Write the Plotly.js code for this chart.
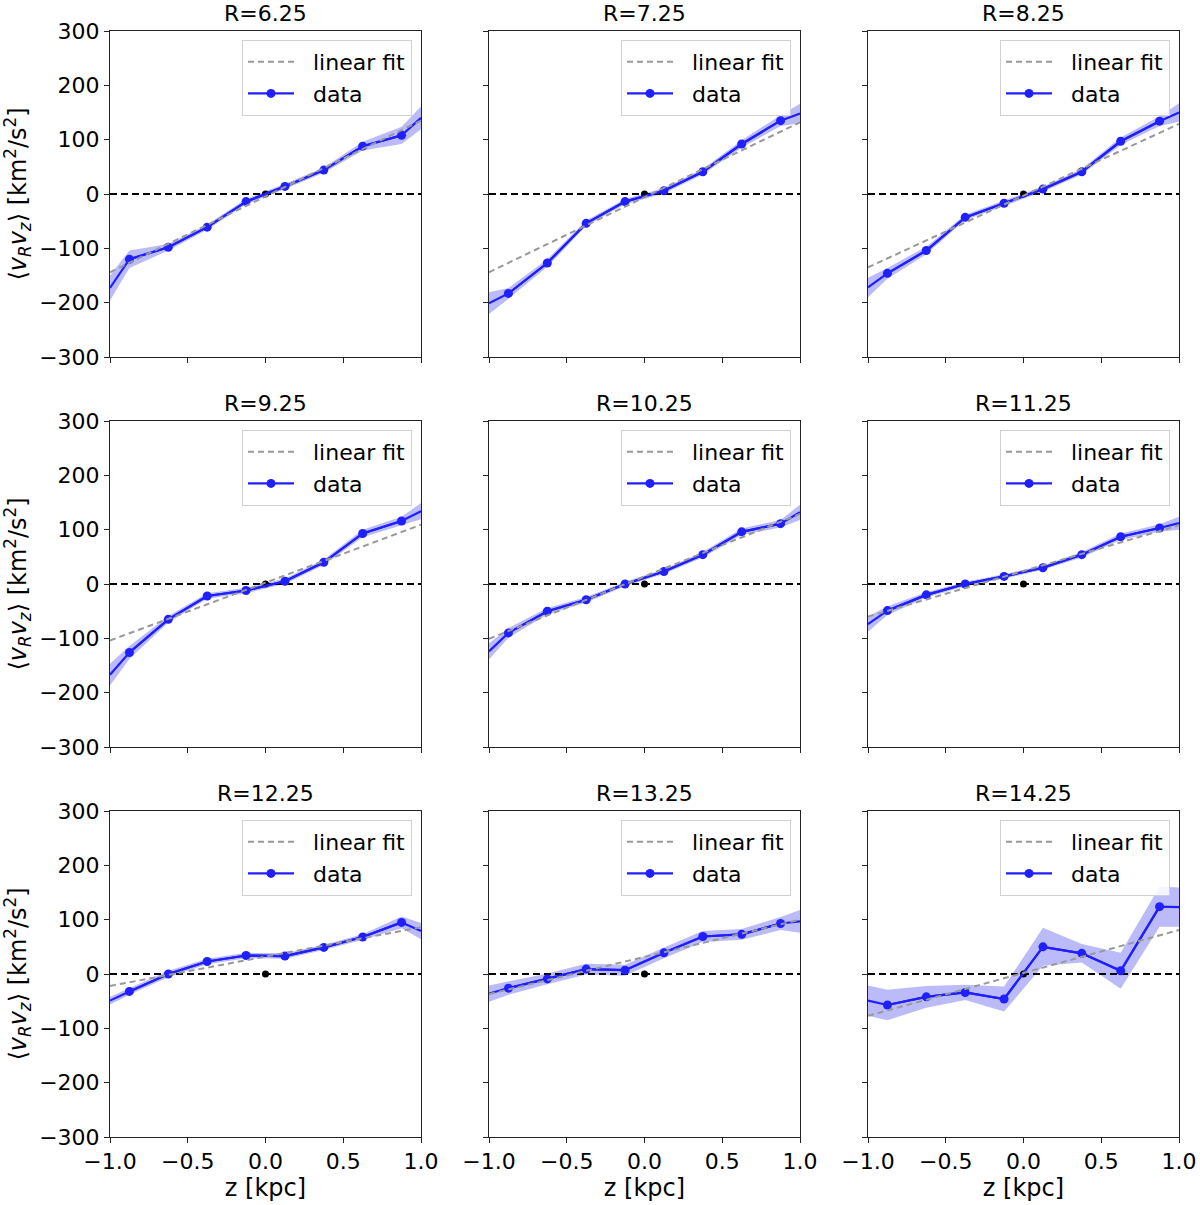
<!DOCTYPE html>
<html>
<head>
<meta charset="utf-8">
<script src="https://cdn.plot.ly/plotly-3.0.1.min.js"></script>
<style>
html, body { margin: 0; padding: 0; background: #fff; }
#chart { width: 1200px; height: 1205px; }
</style>
</head>
<body>
<div id="chart"></div>
<script>
"use strict";

// z bin centres, with the two outer edges where the curve is carried to the frame
const zBins = [-1, -0.875, -0.625, -0.375, -0.125, 0.125, 0.375, 0.625, 0.875, 1];
const radiusLabels = ["6.25", "7.25", "8.25", "9.25", "10.25", "11.25", "12.25", "13.25", "14.25"];

// <vR vz> per radius bin (km^2/s^2)
const vrvzR625 = [-173, -120, -98, -61, -14, 14, 44, 88, 108, 140];
const vrvzR725 = [-201, -183, -127, -54, -14, 6, 41, 92, 135, 148];
const vrvzR825 = [-172, -146, -104, -43, -17, 9, 41, 97, 134, 150];
const vrvzR925 = [-167, -126, -65, -22, -12, 5, 40, 93, 116, 134];
const vrvzR1025 = [-124, -90, -50, -29, 0, 23, 54, 96, 111, 132];
const vrvzR1125 = [-74, -49, -20, 0, 14, 30, 54, 87, 103, 112];
const vrvzR1225 = [-49, -32, 0, 23, 34, 33, 49, 68, 95, 79];
const vrvzR1325 = [-36, -26, -9, 9, 7, 39, 69, 73, 93, 97];
const vrvzR1425 = [-49, -57, -42, -34, -46, 50, 38, 6, 124, 123];

// half width of the shaded uncertainty band
const errR625 = [23, 16, 6, 5, 5, 5, 5, 8, 16, 21];
const errR725 = [20, 10, 7, 5, 5, 5, 5, 7, 10, 18];
const errR825 = [18, 10, 7, 5, 5, 5, 5, 7, 9, 17];
const errR925 = [20, 12, 6, 5, 5, 5, 5, 7, 8, 15];
const errR1025 = [15, 9, 6, 5, 4, 4, 5, 6, 7, 14];
const errR1125 = [14, 8, 5, 4, 4, 4, 5, 6, 7, 12];
const errR1225 = [7, 6, 6, 5, 5, 5, 5, 5, 11, 15];
const errR1325 = [15, 12, 10, 10, 10, 10, 10, 10, 12, 21];
const errR1425 = [28, 28, 20, 14, 23, 35, 17, 33, 37, 36];

// linear fit, value at z=-1 and z=+1
const fitZ = [-1, 1];
const fitR625 = [-144, 135];
const fitR725 = [-144, 132];
const fitR825 = [-135, 129];
const fitR925 = [-104, 109];
const fitR1025 = [-101, 129];
const fitR1125 = [-60, 108];
const fitR1225 = [-22, 86];
const fitR1325 = [-37, 100];
const fitR1425 = [-77, 81];

const allVals = [vrvzR625, vrvzR725, vrvzR825, vrvzR925, vrvzR1025, vrvzR1125, vrvzR1225, vrvzR1325, vrvzR1425];
const allErr = [errR625, errR725, errR825, errR925, errR1025, errR1125, errR1225, errR1325, errR1425];
const allFit = [fitR625, fitR725, fitR825, fitR925, fitR1025, fitR1125, fitR1225, fitR1325, fitR1425];

const W = 1200, H = 1205;
const colLeft = [110, 489, 868];
const rowTop = [31, 421, 811];
const panelW = 311, panelH = 326;

const family = "DejaVu Sans, sans-serif";
const tickFont = { family: family, size: 22, color: "#000" };
const labelFont = { family: family, size: 24, color: "#000" };
const blue = "#2020ff";

var traces = [];
var layout = {
    width: W,
    height: H,
    margin: { l: 0, r: 0, t: 0, b: 0 },
    paper_bgcolor: "#fff",
    plot_bgcolor: "#fff",
    font: tickFont,
    annotations: []
};

for (let i = 0; i < 9; i++) {
    const row = Math.floor(i / 3);
    const col = i % 3;
    const n = i === 0 ? "" : String(i + 1);
    const xa = "x" + n, ya = "y" + n;
    const legendId = "legend" + n;
    const vals = allVals[i];
    const err = allErr[i];

    const lower = vals.map((v, k) => v - err[k]);
    const upper = vals.map((v, k) => v + err[k]);

    traces.push({
        x: zBins, y: lower, xaxis: xa, yaxis: ya, mode: "lines",
        line: { width: 0, color: "rgba(0,0,0,0)" }, showlegend: false, hoverinfo: "skip"
    });
    traces.push({
        x: zBins, y: upper, xaxis: xa, yaxis: ya, mode: "lines", fill: "tonexty",
        fillcolor: "rgba(30,30,240,0.3)",
        line: { width: 0, color: "rgba(0,0,0,0)" }, showlegend: false, hoverinfo: "skip"
    });
    // horizontal reference at zero and the origin dot
    traces.push({
        x: [-1, 1], y: [0, 0], xaxis: xa, yaxis: ya, mode: "lines",
        line: { color: "#000", width: 2, dash: "7px,4px" }, showlegend: false
    });
    traces.push({
        x: [0], y: [0], xaxis: xa, yaxis: ya, mode: "markers",
        marker: { color: "#000", size: 7 }, showlegend: false
    });
    // data line out to the frame edges
    traces.push({
        x: zBins, y: vals, xaxis: xa, yaxis: ya, mode: "lines",
        line: { color: blue, width: 2.2 }, showlegend: false
    });
    traces.push({
        x: zBins.slice(1, 9), y: vals.slice(1, 9), xaxis: xa, yaxis: ya,
        mode: "lines+markers", name: "\u00a0\u00a0data", legend: legendId, legendrank: 2,
        line: { color: blue, width: 2.2 }, marker: { color: blue, size: 9 }
    });
    traces.push({
        x: fitZ, y: allFit[i], xaxis: xa, yaxis: ya, mode: "lines",
        name: "\u00a0\u00a0linear fit", legend: legendId, legendrank: 1,
        line: { color: "#999999", width: 2, dash: "6px,4px" }
    });

    const x0 = colLeft[col] / W, x1 = (colLeft[col] + panelW) / W;
    const y1 = 1 - rowTop[row] / H, y0 = 1 - (rowTop[row] + panelH) / H;

    const axisBase = {
        showline: true, mirror: true, linecolor: "#222", linewidth: 1,
        ticks: "outside", ticklen: 5, tickcolor: "#222", tickwidth: 1,
        showgrid: false, zeroline: false, tickfont: tickFont
    };

    const xaxis = Object.assign({}, axisBase, {
        domain: [x0, x1], anchor: ya, range: [-1, 1],
        tickvals: [-1, -0.5, 0, 0.5, 1], tickformat: ".1f",
        showticklabels: row === 2
    });
    if (row === 2) xaxis.title = { text: "z [kpc]", font: labelFont, standoff: 4 };
    layout["xaxis" + n] = xaxis;

    const yaxis = Object.assign({}, axisBase, {
        domain: [y0, y1], anchor: xa, range: [-300, 300],
        tickvals: [-300, -200, -100, 0, 100, 200, 300],
        showticklabels: col === 0
    });
    if (col === 0) {
        yaxis.title = {
            text: "⟨<i>v</i><sub><i>R</i></sub><i>v</i><sub><i>z</i></sub>⟩ [km<sup>2</sup>/s<sup>2</sup>]",
            font: labelFont, standoff: 6
        };
    }
    layout["yaxis" + n] = yaxis;

    layout[legendId] = {
        x: (colLeft[col] + 302) / W, y: 1 - (rowTop[row] + 9) / H,
        xanchor: "right", yanchor: "top", traceorder: "normal",
        bgcolor: "rgba(255,255,255,0.85)", bordercolor: "#d0d0d0", borderwidth: 1,
        font: tickFont, itemwidth: 46, tracegroupgap: 0
    };

    layout.annotations.push({
        text: "R=" + radiusLabels[i], xref: "paper", yref: "paper",
        x: (x0 + x1) / 2, y: y1 + 3 / H, xanchor: "center", yanchor: "bottom",
        showarrow: false, font: tickFont
    });
}

Plotly.newPlot("chart", traces, layout, { displayModeBar: false, staticPlot: true });
</script>
</body>
</html>
